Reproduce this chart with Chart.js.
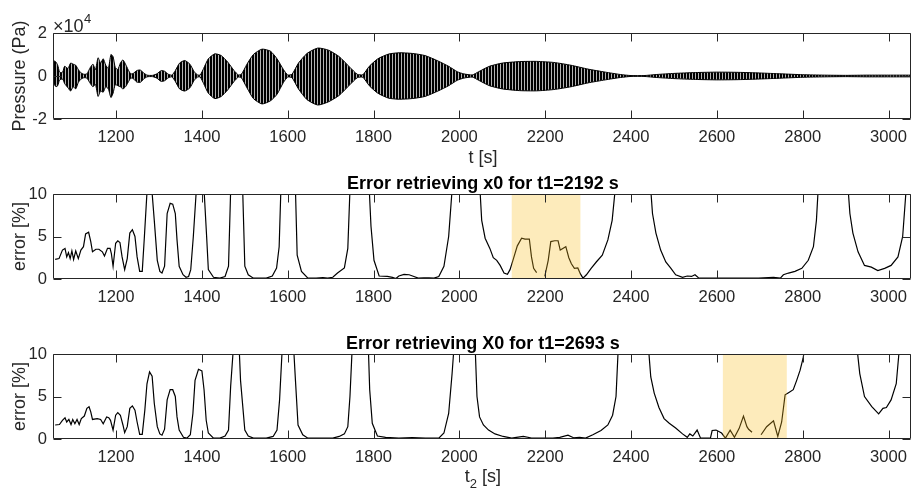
<!DOCTYPE html>
<html>
<head>
<meta charset="utf-8">
<script src="https://cdn.jsdelivr.net/npm/chart.js@4.4.0/dist/chart.umd.min.js"></script>
<style>
  html, body { margin: 0; padding: 0; background: #fff; }
  #wrap { position: relative; width: 915px; height: 496px; }
  canvas { position: absolute; left: 0; }
</style>
</head>
<body>
<div id="wrap">
  <canvas id="gPressao" width="915" height="170" style="top:0"></canvas>
  <canvas id="gErroX0" width="915" height="160" style="top:170px"></canvas>
  <canvas id="gErroX0b" width="915" height="166" style="top:330px"></canvas>
</div>
<script>
// Eixo do tempo (comum aos três painéis)
const T_MIN = 1053;
const T_MAX = 3052;
const ticksX = [1200, 1400, 1600, 1800, 2000, 2200, 2400, 2600, 2800, 3000];
const ticksPressao = [-2, 0, 2];
const ticksErro = [0, 5, 10];

// Envoltória do sinal de pressão (x10^4 Pa)
const tempoEnv = [1053, 1056, 1060, 1064, 1068, 1072, 1076, 1080, 1088, 1094, 1100, 1106, 1112, 1118, 1125, 1132,
  1140, 1146, 1152, 1158, 1164, 1170, 1176, 1182, 1188, 1193, 1198, 1204, 1210, 1216, 1222, 1228, 1234, 1240,
  1248, 1256, 1264, 1272, 1285, 1295, 1305, 1313, 1322, 1330, 1338, 1348, 1360, 1372, 1382, 1390, 1396, 1404,
  1415, 1430, 1445, 1460, 1475, 1485, 1492, 1505, 1520, 1540, 1560, 1575, 1590, 1600, 1610, 1625, 1645, 1670,
  1695, 1720, 1745, 1762, 1775, 1790, 1810, 1835, 1860, 1890, 1920, 1950, 1975, 1995, 2010, 2030, 2045, 2070,
  2100, 2140, 2180, 2220, 2260, 2300, 2340, 2375, 2400, 2430, 2460, 2500, 2550, 2600, 2650, 2700, 2750, 2800,
  2850, 2900, 2950, 3000, 3052];
const envSup = [0.3, 0.7, 0.65, 0.5, 0.2, 0.15, 0.2, 0.45, 0.35, 0.6, 0.55, 0.5, 0.3, 0.15, 0.08, 0.1,
  0.4, 0.55, 0.3, 0.85, 0.6, 0.8, 0.5, 0.35, 1.0, 0.9, 0.4, 0.3, 0.6, 0.75, 0.55, 0.3, 0.1, 0.12,
  0.25, 0.28, 0.15, 0.04, 0.03, 0.1, 0.25, 0.22, 0.08, 0.04, 0.25, 0.6, 0.72, 0.55, 0.2, 0.05, 0.05, 0.35,
  0.8, 1.03, 0.95, 0.65, 0.25, 0.05, 0.08, 0.55, 1.0, 1.25, 1.15, 0.8, 0.3, 0.05, 0.08, 0.6, 1.05, 1.3,
  1.2, 0.9, 0.4, 0.08, 0.06, 0.45, 0.8, 1.02, 1.08, 1.05, 0.95, 0.7, 0.45, 0.2, 0.1, 0.05, 0.2, 0.45,
  0.6, 0.67, 0.68, 0.63, 0.5, 0.32, 0.18, 0.07, 0.02, 0.02, 0.07, 0.12, 0.16, 0.18, 0.17, 0.14, 0.1, 0.06,
  0.04, 0.03, 0.04, 0.04, 0.04];
const envInf = [-0.3, -0.4, -0.5, -0.45, -0.2, -0.15, -0.15, -0.35, -0.55, -0.7, -0.5, -0.6, -0.3, -0.15, -0.08, -0.1,
  -0.35, -0.5, -0.4, -0.95, -0.7, -0.75, -0.5, -0.6, -1.0, -0.8, -0.4, -0.45, -0.5, -0.6, -0.5, -0.3, -0.1, -0.12,
  -0.28, -0.3, -0.15, -0.04, -0.03, -0.1, -0.25, -0.22, -0.08, -0.04, -0.25, -0.6, -0.7, -0.55, -0.2, -0.05, -0.05, -0.35,
  -0.8, -1.05, -0.95, -0.65, -0.25, -0.05, -0.08, -0.55, -1.05, -1.3, -1.15, -0.85, -0.3, -0.05, -0.08, -0.6, -1.1, -1.35,
  -1.2, -0.9, -0.4, -0.08, -0.06, -0.45, -0.8, -1.03, -1.08, -1.05, -0.95, -0.7, -0.45, -0.2, -0.1, -0.05, -0.2, -0.45,
  -0.6, -0.68, -0.69, -0.63, -0.5, -0.32, -0.18, -0.07, -0.02, -0.02, -0.07, -0.12, -0.16, -0.18, -0.17, -0.14, -0.1, -0.06,
  -0.04, -0.03, -0.04, -0.04, -0.04];

// Erro (%) ao recuperar x0 para t1 = 2192 s (null = trecho sem dado)
const tempoErroA = [1058, 1067, 1075, 1081, 1085, 1089, 1093, 1097, 1101, 1106, 1112, 1118, 1124, 1129, 1136, 1141,
  1145, 1153, 1160, 1168, 1173, 1180, 1186, 1189, 1193, 1199, 1204, 1209, 1214, 1220, 1226, 1232, 1238, 1244,
  1249, 1255, 1261, 1266, 1272, 1278, 1284, 1289, 1296, 1302, 1307, 1313, 1319, 1326, 1332, 1338, 1342, 1347,
  1356, 1363, 1369, 1374, 1380, 1387, 1396, 1405, 1411, 1415, 1427, 1442, 1454, 1462, 1467, 1481, 1495, 1500,
  1508, 1520, 1550, 1564, 1574, 1580, 1584, 1601, 1618, 1622, 1632, 1647, 1666, 1682, 1693, 1705, 1716, 1732,
  1740, 1745, 1767, 1790, 1794, 1801, 1813, 1832, 1844, 1852, 1859, 1871, 1883, 1894, 1904, 1917, 1929, 1941,
  1952, 1964, 1975, 1983, 2015, 2048, 2052, 2060, 2071, 2079, 2087, 2095, 2104, 2112, 2118, 2126, 2135, 2145,
  2153, 2163, 2168, 2173, 2180, 2190, 2199, 2207, 2213, 2222, 2230, 2235, 2241, 2248, 2255, 2261, 2268, 2276,
  2282, 2288, 2296, 2307, 2319, 2333, 2346, 2356, 2363, 2405, 2446, 2450, 2458, 2469, 2481, 2493, 2504, 2520,
  2531, 2541, 2549, 2557, 2566, 2605, 2628, 2659, 2697, 2732, 2748, 2755, 2767, 2782, 2798, 2813, 2825, 2832,
  2836, 2871, 2906, 2910, 2917, 2929, 2944, 2960, 2975, 2991, 3006, 3022, 3033, 3041, 3052];
const erroA = [2.3, 2.4, 3.4, 3.6, 2.6, 3.1, 2.4, 3.3, 2.3, 3.3, 2.4, 3.4, 3.8, 5.3, 5.5, 4.4,
  3.2, 3.5, 3.5, 3.2, 2.7, 3.6, 3.6, 3.0, 1.5, 4.2, 4.5, 4.3, 2.6, 1.1, 2.4, 5.4, 5.8, 5.0,
  2.6, 0.9, 0.9, 5.0, 10.2, 10.8, 10.1, 6.9, 2.2, 0.9, 0.7, 1.5, 7.7, 8.9, 8.8, 7.7, 4.6, 1.5,
  0.5, 0.2, 0.3, 1.1, 5.0, 10.5, 30, 10.5, 5.0, 1.1, 0.2, 0.1, 0.3, 1.5, 10.5, 40, 10.5, 1.5,
  0.5, 0.1, 0.1, 0.35, 1.3, 3.8, 10.5, 40, 10.5, 2.8, 0.9, 0.1, 0.1, 0.15, 0.1, 0.2, 0.7, 1.3,
  3.6, 10.5, 40, 10.5, 6.2, 2.2, 0.35, 0.3, 0.2, 0.05, 0.35, 0.55, 0.5, 0.3, 0.1, 0.15, 0.15, 0.1,
  0.3, 1.5, 5.0, 10.5, 40, 10.5, 6.9, 4.8, 3.6, 2.5, 2.2, 1.6, 0.7, 0.55, 1.1, 2.4, 3.9, 4.8,
  4.7, 4.7, 2.6, 1.25, 0.75, null, 0.3, 2.2, 4.4, 4.5, 4.5, 3.4, 3.6, 3.8, 2.5, 1.8, 1.25, 1.3,
  0.6, 0.1, 0.5, 1.25, 2.0, 2.8, 4.6, 6.9, 10.5, 40, 10.5, 7.7, 5.4, 3.4, 2.0, 1.25, 0.5, 0.2,
  0.35, 0.3, 0.5, 0.15, 0.1, 0.1, 0.1, 0.1, 0.1, 0.2, 0.1, 0.5, 0.7, 0.9, 1.25, 2.2, 3.8, 6.9,
  10.5, 40, 10.5, 7.7, 5.4, 3.2, 1.6, 1.4, 1.0, 1.25, 1.6, 2.6, 5.0, 10.5, 20];

// Erro (%) ao recuperar X0 para t1 = 2693 s
const tempoErroB = [1058, 1068, 1075, 1081, 1085, 1090, 1095, 1099, 1104, 1109, 1114, 1119, 1126, 1132, 1137, 1141,
  1145, 1156, 1164, 1170, 1178, 1183, 1187, 1193, 1199, 1204, 1210, 1216, 1220, 1226, 1232, 1238, 1244, 1249,
  1255, 1261, 1267, 1272, 1278, 1284, 1289, 1296, 1302, 1307, 1313, 1319, 1326, 1332, 1338, 1342, 1347, 1357,
  1365, 1373, 1379, 1384, 1392, 1400, 1405, 1410, 1415, 1427, 1442, 1454, 1462, 1467, 1473, 1480, 1487, 1490,
  1500, 1508, 1520, 1550, 1566, 1575, 1581, 1587, 1600, 1614, 1618, 1624, 1635, 1647, 1705, 1720, 1732, 1740,
  1745, 1750, 1769, 1788, 1791, 1797, 1809, 1828, 1859, 1890, 1921, 1952, 1964, 1975, 1983, 1987, 2012, 2037,
  2041, 2047, 2056, 2068, 2083, 2102, 2122, 2133, 2149, 2168, 2187, 2218, 2234, 2253, 2266, 2280, 2294, 2311,
  2330, 2346, 2357, 2365, 2370, 2405, 2441, 2446, 2454, 2465, 2477, 2489, 2504, 2520, 2531, 2537, 2544, 2554,
  2562, 2585, 2589, 2598, 2611, 2620, 2631, 2641, 2652, 2662, 2670, 2674, 2682, 2692, 2703, 2716, 2732, 2742,
  2751, 2759, 2767, 2778, 2786, 2794, 2801, 2804, 2866, 2927, 2933, 2944, 2961, 2977, 2987, 2995, 3006, 3018,
  3025, 3052];
const erroB = [1.65, 1.7, 2.2, 2.5, 2.0, 2.3, 1.7, 2.3, 1.8, 2.3, 1.7, 2.4, 2.7, 3.6, 3.8, 3.2,
  2.3, 2.4, 2.3, 1.8, 2.6, 2.5, 2.2, 1.05, 2.8, 3.1, 2.8, 1.65, 0.75, 1.45, 3.6, 3.9, 3.4, 2.0,
  0.55, 0.55, 3.4, 6.5, 7.9, 7.4, 4.2, 1.45, 0.6, 0.45, 1.15, 4.6, 5.8, 5.8, 5.0, 2.6, 1.05, 0.2,
  0.1, 0.5, 3.0, 6.9, 8.2, 8.0, 5.8, 2.2, 0.7, 0.1, 0.1, 0.35, 1.05, 6.2, 10.5, 25, 10.5, 6.9,
  1.05, 0.35, 0.1, 0.1, 0.3, 1.05, 4.6, 10.5, 30, 10.5, 6.9, 1.65, 0.5, 0.1, 0.1, 0.3, 0.6, 1.45,
  5.0, 10.5, 30, 10.5, 5.8, 1.85, 0.35, 0.2, 0.12, 0.15, 0.1, 0.1, 0.7, 3.0, 7.7, 10.5, 40, 10.5,
  5.0, 2.6, 1.65, 1.05, 0.6, 0.3, 0.1, 0.2, 0.3, 0.12, 0.1, 0.1, 0.2, 0.45, 0.15, 0.2, 0.1, 0.5,
  1.0, 1.65, 2.8, 5.0, 10.5, 40, 10.5, 7.3, 5.4, 3.7, 2.4, 1.85, 1.3, 0.6, 0.2, 0.6, 0.35, 1.05,
  0.1, 0.1, 1.0, 1.05, 0.7, 0.1, 1.05, 0.2, 1.25, 2.7, 1.45, 1.15, 0.8, null, 0.5, 1.45, 2.15, 0.3,
  2.0, 5.2, 5.45, 5.8, 6.9, 8.1, 9.5, 10.5, 40, 10.5, 7.7, 5.0, 3.8, 2.95, 3.6, 3.7, 4.6, 6.5,
  10.5, 25];

// Janelas destacadas (s)
const faixaA = [2122, 2282];
const faixaB = [2614, 2763];

const corEixo = '#262626';
const FONTE = '"Liberation Sans", Arial, Helvetica, sans-serif';
const TAM_TICK = 8;

Chart.defaults.font.family = FONTE;
Chart.defaults.color = corEixo;

function pares(xs, ys) {
  return xs.map((x, i) => ({ x: x, y: ys[i] }));
}

// Moldura estilo MATLAB: caixa, ticks para dentro e textos
const moldura = {
  id: 'moldura',
  afterDraw(chart, args, opts) {
    const { ctx, chartArea: a, scales } = chart;
    const esq = Math.round(a.left) + 0.5, dir = Math.round(a.right) - 0.5;
    const topo = Math.round(a.top) + 0.5, base = Math.round(a.bottom) - 0.5;
    ctx.save();
    ctx.strokeStyle = corEixo;
    ctx.lineWidth = 1;
    ctx.beginPath();
    ctx.rect(esq, topo, dir - esq, base - topo);
    ticksX.forEach(v => {
      const px = Math.round(scales.x.getPixelForValue(v)) + 0.5;
      ctx.moveTo(px, base); ctx.lineTo(px, base - TAM_TICK);
      ctx.moveTo(px, topo); ctx.lineTo(px, topo + TAM_TICK);
    });
    opts.ticksY.forEach(v => {
      const py = Math.round(scales.y.getPixelForValue(v)) + 0.5;
      ctx.moveTo(esq, py); ctx.lineTo(esq + TAM_TICK, py);
      ctx.moveTo(dir, py); ctx.lineTo(dir - TAM_TICK, py);
    });
    ctx.stroke();

    const centroX = (a.left + a.right) / 2 + 1;

    // rótulo do eixo y (girado)
    ctx.fillStyle = corEixo;
    ctx.font = '18px ' + FONTE;
    ctx.save();
    ctx.translate(25, (a.top + a.bottom) / 2);
    ctx.rotate(-Math.PI / 2);
    ctx.textAlign = 'center';
    ctx.textBaseline = 'alphabetic';
    ctx.fillText(opts.rotuloY, 0, 0);
    ctx.restore();

    // título do painel
    if (opts.titulo) {
      ctx.fillStyle = '#000';
      ctx.font = 'bold 18px ' + FONTE;
      ctx.textAlign = 'center';
      ctx.fillText(opts.titulo, centroX, a.top - 5.5);
    }

    // rótulo do eixo x
    ctx.fillStyle = corEixo;
    if (opts.rotuloX) {
      ctx.font = '18px ' + FONTE;
      ctx.textAlign = 'center';
      ctx.fillText(opts.rotuloX, centroX, a.bottom + 44);
    }
    if (opts.subscritoX) {
      // t com subscrito 2
      ctx.textAlign = 'left';
      ctx.font = '18px ' + FONTE;
      const wT = ctx.measureText('t').width;
      const wS = ctx.measureText(' [s]').width;
      ctx.font = '13px ' + FONTE;
      const w2 = ctx.measureText('2').width;
      const x0 = centroX - (wT + w2 + wS) / 2;
      const yb = a.bottom + 43;
      ctx.font = '18px ' + FONTE;
      ctx.fillText('t', x0, yb);
      ctx.fillText(' [s]', x0 + wT + w2, yb);
      ctx.font = '13px ' + FONTE;
      ctx.fillText('2', x0 + wT, yb + 6);
    }

    // multiplicador x10^4
    if (opts.expoente) {
      ctx.textAlign = 'left';
      ctx.font = '18px ' + FONTE;
      ctx.fillText('\u00d710', a.left, a.top - 1);
      const w = ctx.measureText('\u00d710').width;
      ctx.font = '13px ' + FONTE;
      ctx.fillText('4', a.left + w + 0.5, a.top - 10);
    }
    ctx.restore();
  }
};

// Faixa amarela translúcida sobre a curva
const faixa = {
  id: 'faixa',
  afterDatasetsDraw(chart, args, opts) {
    if (!opts.intervalo) return;
    const { ctx, chartArea: a, scales: { x } } = chart;
    const x1 = x.getPixelForValue(opts.intervalo[0]);
    const x2 = x.getPixelForValue(opts.intervalo[1]);
    ctx.save();
    ctx.fillStyle = 'rgba(250, 190, 30, 0.3)';
    ctx.fillRect(x1, a.top, x2 - x1, a.bottom - a.top);
    ctx.restore();
  }
};

function escalas(minY, maxY, ticksY, alturaX, padX) {
  return {
    x: {
      type: 'linear', min: T_MIN, max: T_MAX,
      grid: { display: false, drawTicks: false },
      border: { display: false },
      afterBuildTicks: s => { s.ticks = ticksX.map(v => ({ value: v })); },
      afterFit: s => { s.height = alturaX; },
      ticks: { padding: padX, maxRotation: 0, autoSkip: false, font: { size: 16.6 }, color: corEixo,
        callback: v => String(v) }
    },
    y: {
      type: 'linear', min: minY, max: maxY,
      grid: { display: false, drawTicks: false },
      border: { display: false },
      afterBuildTicks: s => { s.ticks = ticksY.map(v => ({ value: v })); },
      afterFit: s => { s.width = 53; },
      ticks: { padding: 6, font: { size: 16.6 }, color: corEixo, callback: v => String(v) }
    }
  };
}

function linhaErro(xs, ys) {
  return {
    data: pares(xs, ys),
    borderColor: '#000',
    borderWidth: 1.2,
    pointRadius: 0,
    tension: 0,
    spanGaps: false,
    fill: false
  };
}

// Padrão listrado que imita as oscilações densas do sinal
const ctxPressao = document.getElementById('gPressao').getContext('2d');
const tile = document.createElement('canvas');
tile.width = 3; tile.height = 2;
const tctx = tile.getContext('2d');
tctx.fillStyle = '#000'; tctx.fillRect(0, 0, 3, 2);
tctx.fillStyle = '#b4b4b4'; tctx.fillRect(2, 0, 1, 2);
const padraoOnda = ctxPressao.createPattern(tile, 'repeat');

new Chart(ctxPressao, {
  type: 'line',
  data: {
    datasets: [
      { data: pares(tempoEnv, envSup), borderColor: '#000', borderWidth: 1, pointRadius: 0, tension: 0.2, fill: false },
      { data: pares(tempoEnv, envInf), borderColor: '#000', borderWidth: 1, pointRadius: 0, tension: 0.2,
        fill: '-1', backgroundColor: padraoOnda }
    ]
  },
  options: {
    responsive: false, animation: false,
    layout: { padding: { top: 33, right: 1, bottom: 0, left: 0 } },
    plugins: {
      legend: { display: false }, tooltip: { enabled: false },
      moldura: { ticksY: ticksPressao, rotuloY: 'Pressure (Pa)', rotuloX: 't [s]', expoente: true }
    },
    scales: escalas(-2, 2, ticksPressao, 51, 8)
  },
  plugins: [moldura]
});

new Chart(document.getElementById('gErroX0').getContext('2d'), {
  type: 'line',
  data: { datasets: [linhaErro(tempoErroA, erroA)] },
  options: {
    responsive: false, animation: false,
    layout: { padding: { top: 24, right: 1, bottom: 0, left: 0 } },
    plugins: {
      legend: { display: false }, tooltip: { enabled: false },
      faixa: { intervalo: faixaA },
      moldura: { ticksY: ticksErro, rotuloY: 'error [%]', titulo: 'Error retrieving x0 for t1=2192 s' }
    },
    scales: escalas(0, 10, ticksErro, 51, 8)
  },
  plugins: [faixa, moldura]
});

new Chart(document.getElementById('gErroX0b').getContext('2d'), {
  type: 'line',
  data: { datasets: [linhaErro(tempoErroB, erroB)] },
  options: {
    responsive: false, animation: false,
    layout: { padding: { top: 24, right: 1, bottom: 0, left: 0 } },
    plugins: {
      legend: { display: false }, tooltip: { enabled: false },
      faixa: { intervalo: faixaB },
      moldura: { ticksY: ticksErro, rotuloY: 'error [%]', titulo: 'Error retrieving X0 for t1=2693 s', subscritoX: true }
    },
    scales: escalas(0, 10, ticksErro, 57, 8)
  },
  plugins: [faixa, moldura]
});
</script>
</body>
</html>
